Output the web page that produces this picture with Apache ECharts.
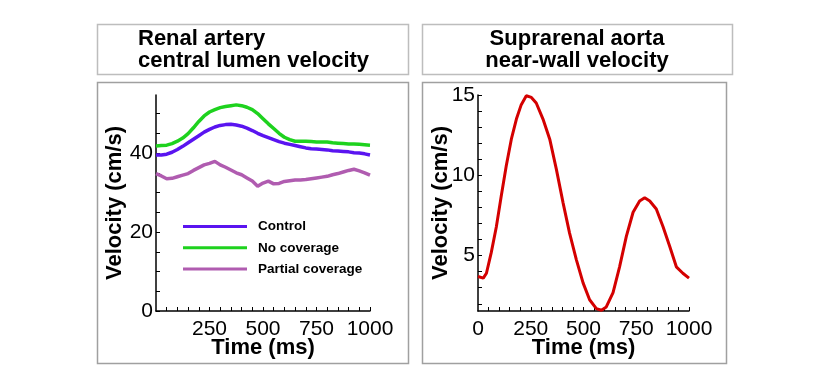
<!DOCTYPE html>
<html>
<head>
<meta charset="utf-8">
<script src="https://cdn.jsdelivr.net/npm/echarts@6/dist/echarts.min.js"></script>
<style>
  html, body { margin: 0; padding: 0; background: #fff; }
  #chart { width: 830px; height: 389px; }
</style>
</head>
<body>
<div id="chart"></div>
<script>
// renal artery, sampled every 25 ms
var renalTime = [0, 25, 50, 75, 100, 125, 150, 175, 200, 225, 250, 275, 300, 325, 350, 375, 400,
  425, 450, 475, 500, 525, 550, 575, 600, 625, 650, 675, 700, 725, 750, 775, 800, 825, 850, 875,
  900, 925, 950, 975, 1000];
var controlVel = [39.5, 39.5, 39.7, 40.2, 40.9, 41.7, 42.6, 43.5, 44.4, 45.3, 46.0, 46.6, 47.0, 47.2,
  47.3, 47.1, 46.8, 46.3, 45.7, 45.0, 44.4, 43.9, 43.4, 42.9, 42.5, 42.2, 41.9, 41.6, 41.3, 41.1,
  41.0, 40.9, 40.8, 40.6, 40.5, 40.4, 40.3, 40.1, 40.0, 39.8, 39.5];
var noCoverageVel = [41.8, 41.9, 42.0, 42.4, 43.0, 43.8, 44.9, 46.4, 48.0, 49.4, 50.4, 51.0, 51.5,
  51.8, 52.0, 52.2, 52.0, 51.6, 51.0, 50.0, 48.7, 47.4, 46.2, 45.0, 44.0, 43.4, 43.0, 43.0, 43.0,
  42.9, 42.8, 42.8, 42.8, 42.6, 42.5, 42.4, 42.3, 42.3, 42.2, 42.1, 42.0];
var partialVel = [34.8, 34.2, 33.5, 33.6, 34.0, 34.4, 34.8, 35.6, 36.3, 37.0, 37.4, 37.9, 37.0,
  36.4, 35.7, 35.0, 34.5, 33.7, 32.9, 31.6, 32.4, 32.9, 32.2, 32.3, 32.8, 33.0, 33.2, 33.2, 33.3,
  33.5, 33.7, 33.9, 34.1, 34.5, 34.8, 35.2, 35.6, 35.9, 35.5, 35.0, 34.4];

// suprarenal aorta near-wall
var aortaTime = [0, 25, 40, 63, 87, 110, 134, 158, 182, 205, 229, 253, 276, 308, 340, 371, 403, 434,
  466, 498, 529, 561, 585, 608, 640, 671, 703, 735, 766, 790, 814, 845, 877, 908, 940, 971, 1000];
var aortaVel = [3.7, 3.6, 3.9, 5.2, 6.8, 8.7, 10.6, 12.25, 13.5, 14.4, 14.95, 14.85, 14.5, 13.5,
  12.25, 10.4, 8.3, 6.4, 4.75, 3.3, 2.25, 1.7, 1.6, 1.8, 2.7, 4.3, 6.2, 7.7, 8.4, 8.6, 8.4, 7.9,
  6.8, 5.6, 4.3, 3.9, 3.6];

var renalNames = ['Control', 'No coverage', 'Partial coverage'];
var renalColors = ['#5a14f0', '#1ed21e', '#b05cb0'];

// ticks and labels
var timeTicks = [50, 100, 150, 200, 250, 300, 350, 400, 450, 500, 550, 600, 650, 700, 750, 800,
  850, 900, 950, 1000];
var leftTimeLabels = [250, 500, 750, 1000];
var rightTimeLabels = [0, 250, 500, 750, 1000];
var renalVelTicks = [0, 5, 10, 15, 20, 25, 30, 35, 40, 45, 50];
var renalVelLabels = [0, 20, 40];
var aortaVelTicks = [2, 3, 4, 5, 6, 7, 8, 9, 10, 11, 12, 13, 14, 15];
var aortaVelLabels = [5, 10, 15];

var font = '"Liberation Sans", Arial, Helvetica, sans-serif';

function pairs(xs, ys) {
  return xs.map(function (x, i) { return [x, ys[i]]; });
}

function plain(v) { return String(v); }

function xAxisOf(grid, labels, nameGap) {
  return {
    type: 'value', gridIndex: grid, min: 0, max: 1000,
    name: 'Time (ms)', nameLocation: 'middle', nameGap: nameGap, nameMoveOverlap: false,
    nameTextStyle: { fontFamily: font, fontSize: 22, fontWeight: 'bold', color: '#000' },
    axisLine: { show: true, lineStyle: { color: '#000', width: 1.5 } },
    axisTick: { show: true, inside: true, length: 4, customValues: timeTicks, lineStyle: { color: '#000' } },
    axisLabel: { customValues: labels, formatter: plain, margin: 8, fontFamily: font, fontSize: 21, color: '#000' },
    splitLine: { show: false }
  };
}

function yAxisOf(grid, min, max, ticks, labels, nameGap) {
  return {
    type: 'value', gridIndex: grid, min: min, max: max,
    name: 'Velocity (cm/s)', nameLocation: 'middle', nameGap: nameGap, nameMoveOverlap: false,
    nameTextStyle: { fontFamily: font, fontSize: 22, fontWeight: 'bold', color: '#000' },
    axisLine: { show: true, lineStyle: { color: '#000', width: 1.5 } },
    axisTick: { show: true, inside: true, length: 4, customValues: ticks, lineStyle: { color: '#000' } },
    axisLabel: { customValues: labels, formatter: plain, margin: 3, fontFamily: font, fontSize: 21, color: '#000' },
    splitLine: { show: false }
  };
}

var chart = echarts.init(document.getElementById('chart'));

var boxes = [
  [97, 24, 311, 50], [422, 24, 310, 50],
  [97, 82, 311, 281], [422, 82, 304, 281]
].map(function (b, i) {
  return {
    type: 'rect', silent: true,
    shape: { x: b[0] + 0.5, y: b[1] + 0.5, width: b[2], height: b[3] },
    style: { fill: null, stroke: i < 2 ? '#bdbdbd' : '#a0a0a0', lineWidth: 1.5 }
  };
});

var renalSeries = renalNames.map(function (name, i) {
  var vals = [controlVel, noCoverageVel, partialVel][i];
  return {
    name: name, type: 'line', xAxisIndex: 0, yAxisIndex: 0,
    data: pairs(renalTime, vals),
    showSymbol: false, symbol: 'none',
    lineStyle: { color: renalColors[i], width: 3.5 },
    itemStyle: { color: renalColors[i] },
    z: 3 - i
  };
});

var option = {
  animation: false,
  backgroundColor: '#fff',
  title: [
    {
      text: 'Renal artery\ncentral lumen velocity',
      left: 138, top: 28, padding: 0,
      textStyle: { fontFamily: font, fontSize: 22, fontWeight: 'bold', color: '#000', lineHeight: 22 }
    },
    {
      text: 'Suprarenal aorta\nnear-wall velocity',
      left: 577, top: 28, padding: 0, textAlign: 'center',
      textStyle: { fontFamily: font, fontSize: 22, fontWeight: 'bold', color: '#000', lineHeight: 22, align: 'center' }
    }
  ],
  legend: {
    orient: 'vertical', left: 183, top: 219.5, padding: 0,
    icon: 'rect', itemWidth: 64, itemHeight: 3, itemGap: 7.3,
    selectedMode: false,
    data: renalNames,
    textStyle: { fontFamily: font, fontSize: 13.5, fontWeight: 'bold', color: '#000', lineHeight: 14, padding: [0, 0, 0, 6] }
  },
  grid: [
    { left: 156, top: 95, width: 214, height: 216 },
    { left: 478, top: 95, width: 211, height: 216 }
  ],
  xAxis: [xAxisOf(0, leftTimeLabels, 26), xAxisOf(1, rightTimeLabels, 26)],
  yAxis: [
    yAxisOf(0, 0, 54.7, renalVelTicks, renalVelLabels, 30),
    yAxisOf(1, 1.55, 15, aortaVelTicks, aortaVelLabels, 26)
  ],
  graphic: boxes,
  series: renalSeries.concat([{
    name: 'Suprarenal aorta', type: 'line', xAxisIndex: 1, yAxisIndex: 1,
    data: pairs(aortaTime, aortaVel),
    showSymbol: false, symbol: 'none',
    lineStyle: { color: '#d40000', width: 3 }
  }])
};

chart.setOption(option);
</script>
</body>
</html>
